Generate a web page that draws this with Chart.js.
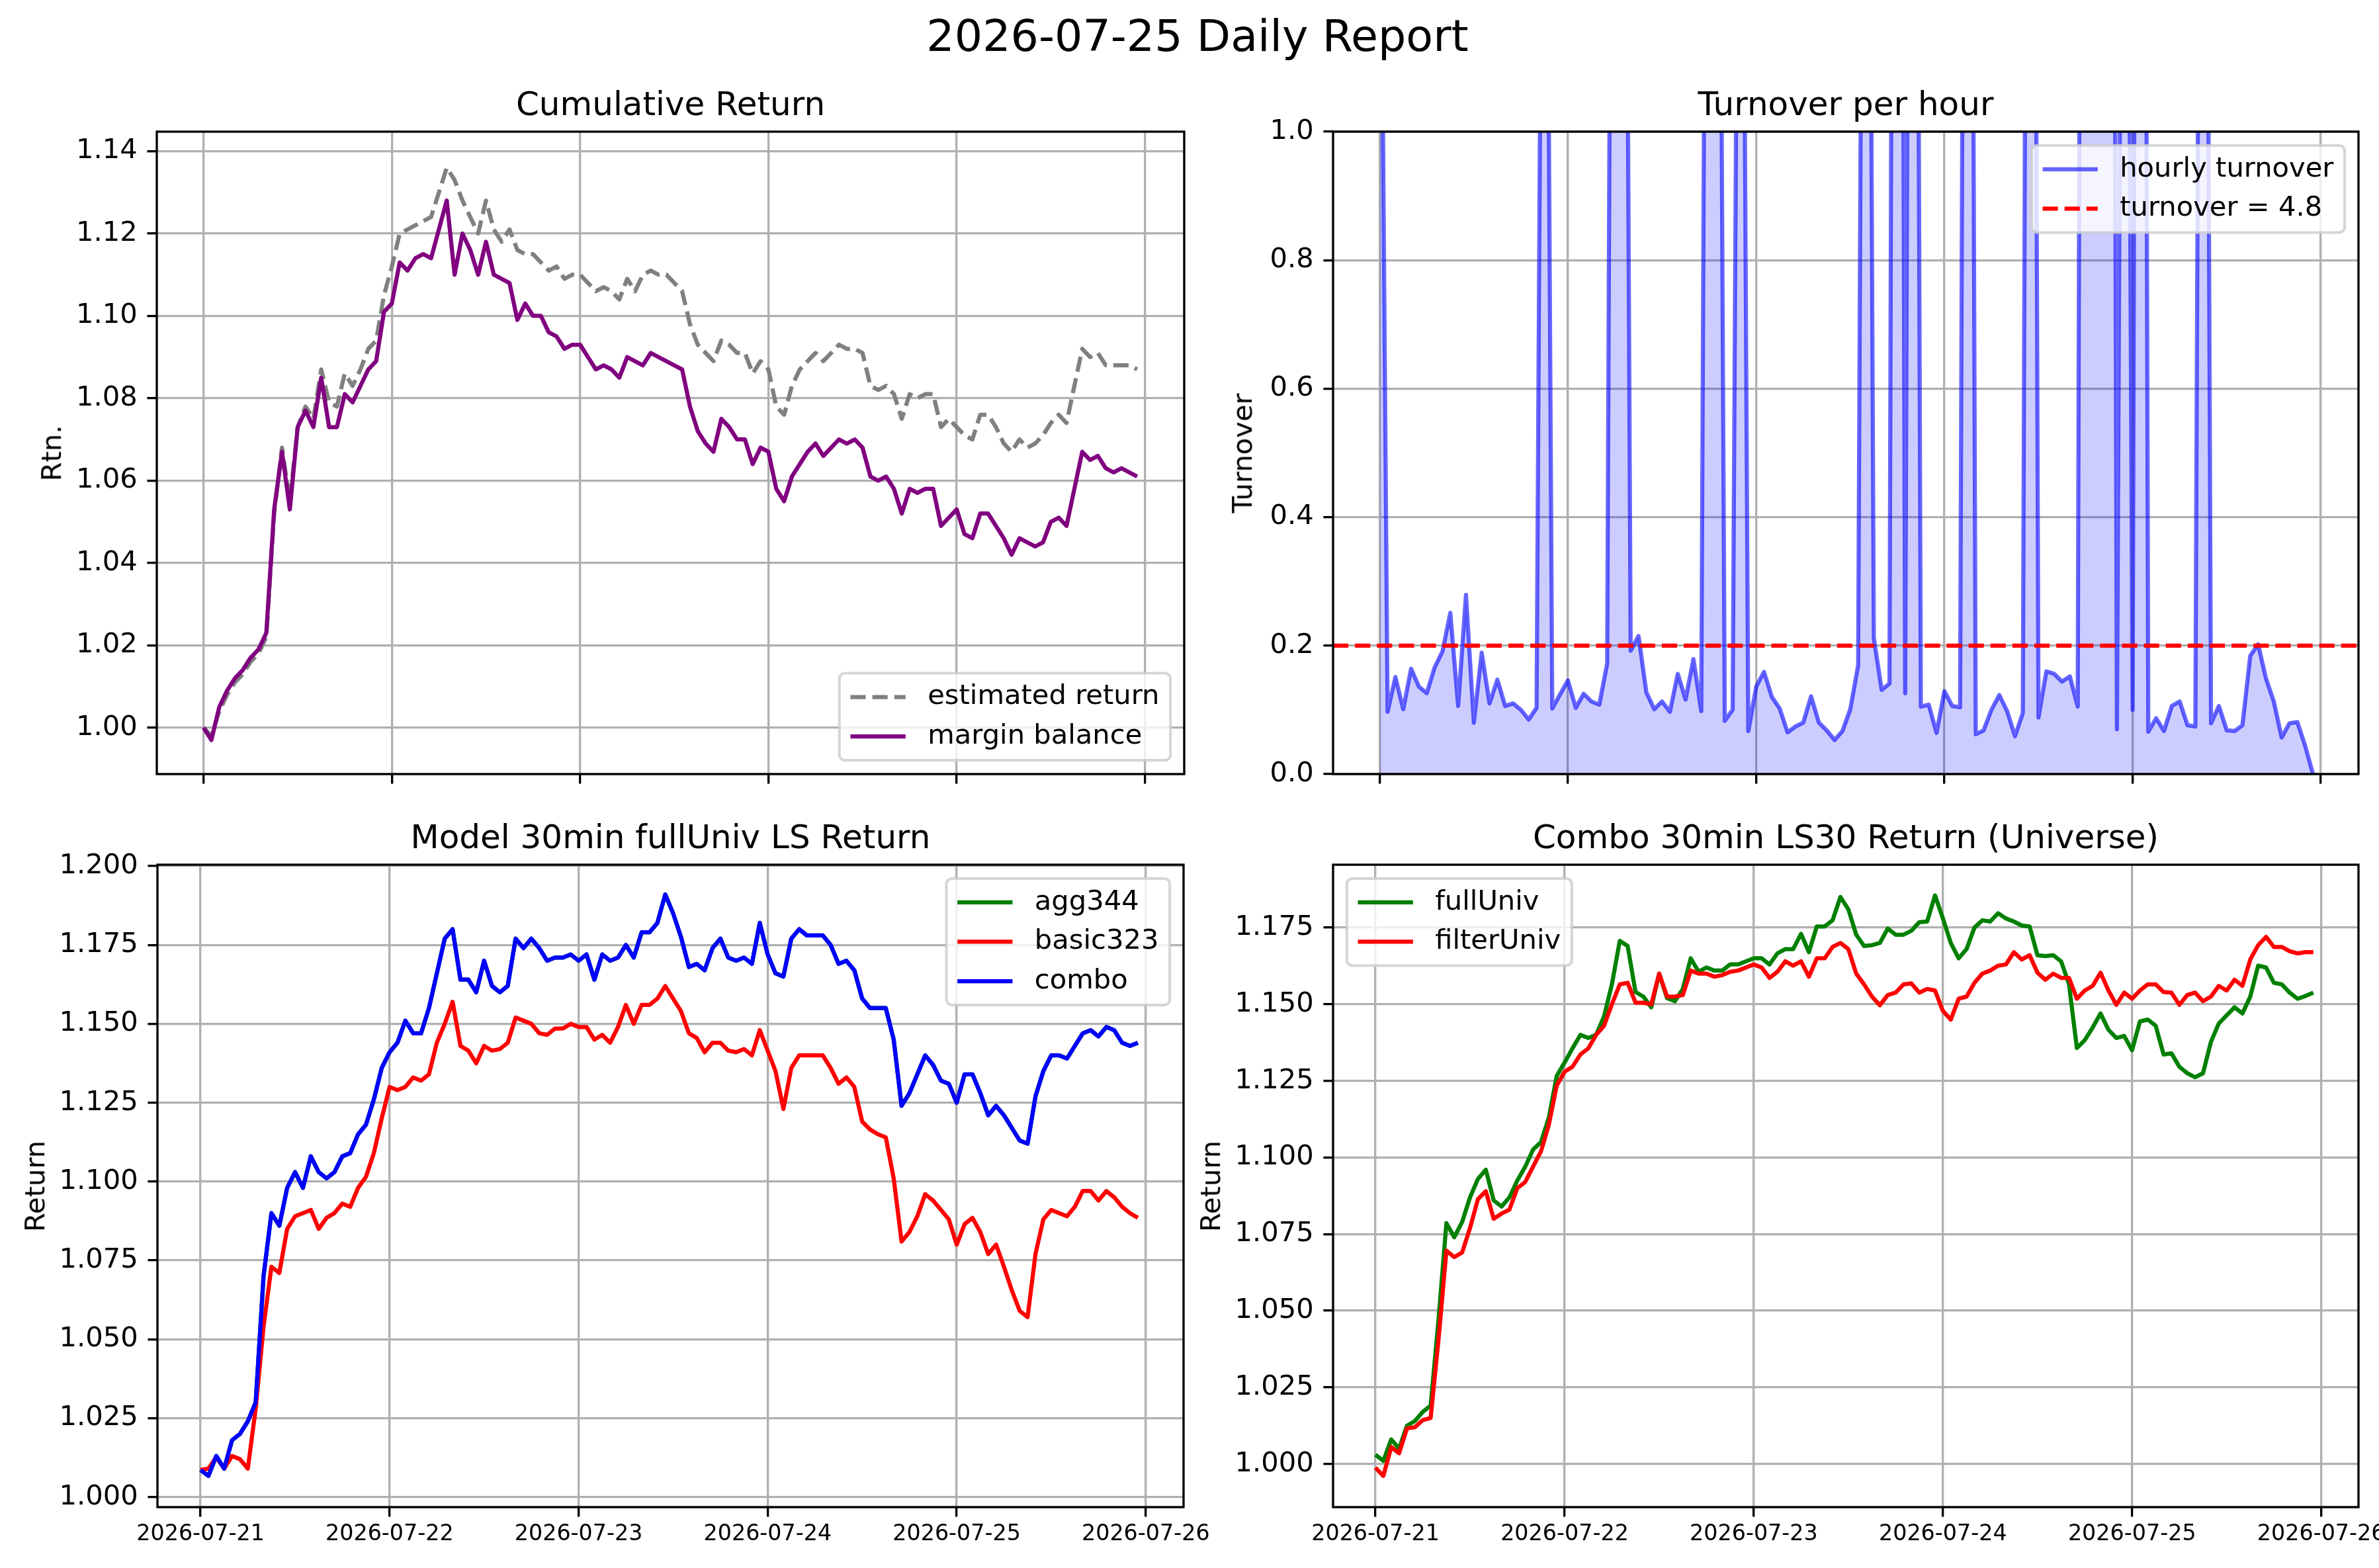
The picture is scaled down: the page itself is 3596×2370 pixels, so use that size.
<!DOCTYPE html>
<html>
<head>
<meta charset="utf-8">
<title>2026-07-25 Daily Report</title>
<script src="https://cdn.jsdelivr.net/npm/chart.js@4.4.1/dist/chart.umd.min.js"></script>
<style>
html, body { margin: 0; padding: 0; background: #fff; }
#fig { position: relative; width: 3596px; height: 2370px; overflow: hidden; background: #fff; font-family: "DejaVu Sans", sans-serif; color: #000; }
#fig canvas { position: absolute; }
.txt { position: absolute; white-space: nowrap; line-height: 1; }
</style>
</head>
<body>
<div id="fig"></div>
<script>
// hourly samples, first one at 2026-07-21 00:00
const DATES = ['2026-07-21', '2026-07-22', '2026-07-23', '2026-07-24', '2026-07-25', '2026-07-26'];
const HOURS_PER_DAY = 24;

// Cumulative Return
const estReturn = [
  1.000, 0.998, 1.004, 1.008, 1.011, 1.013, 1.016, 1.018, 1.022, 1.052, 1.068, 1.055,
  1.073, 1.078, 1.075, 1.087, 1.079, 1.078, 1.086, 1.083, 1.087, 1.092, 1.094, 1.105,
  1.112, 1.120, 1.121, 1.122, 1.123, 1.124, 1.130, 1.136, 1.133, 1.128, 1.124, 1.120,
  1.128, 1.121, 1.118, 1.121, 1.116, 1.115, 1.115, 1.113, 1.111, 1.112, 1.109, 1.110,
  1.110, 1.108, 1.106, 1.107, 1.106, 1.104, 1.109, 1.106, 1.110, 1.111, 1.110, 1.110,
  1.108, 1.106, 1.098, 1.093, 1.091, 1.089, 1.094, 1.093, 1.091, 1.091, 1.086, 1.089,
  1.087, 1.078, 1.076, 1.083, 1.087, 1.089, 1.091, 1.089, 1.091, 1.093, 1.092, 1.092,
  1.091, 1.083, 1.082, 1.083, 1.081, 1.075, 1.081, 1.080, 1.081, 1.081, 1.073, 1.075,
  1.073, 1.071, 1.070, 1.076, 1.076, 1.073, 1.069, 1.067, 1.070, 1.068, 1.069, 1.071,
  1.074, 1.076, 1.074, 1.083, 1.092, 1.090, 1.091, 1.088, 1.088, 1.088, 1.088, 1.087
];
const marginBalance = [
  1.000, 0.997, 1.005, 1.009, 1.012, 1.014, 1.017, 1.019, 1.023, 1.053, 1.067, 1.053,
  1.073, 1.077, 1.073, 1.085, 1.073, 1.073, 1.081, 1.079, 1.083, 1.087, 1.089, 1.101,
  1.103, 1.113, 1.111, 1.114, 1.115, 1.114, 1.121, 1.128, 1.110, 1.120, 1.116, 1.110,
  1.118, 1.110, 1.109, 1.108, 1.099, 1.103, 1.100, 1.100, 1.096, 1.095, 1.092, 1.093,
  1.093, 1.090, 1.087, 1.088, 1.087, 1.085, 1.090, 1.089, 1.088, 1.091, 1.090, 1.089,
  1.088, 1.087, 1.078, 1.072, 1.069, 1.067, 1.075, 1.073, 1.070, 1.070, 1.064, 1.068,
  1.067, 1.058, 1.055, 1.061, 1.064, 1.067, 1.069, 1.066, 1.068, 1.070, 1.069, 1.070,
  1.068, 1.061, 1.060, 1.061, 1.058, 1.052, 1.058, 1.057, 1.058, 1.058, 1.049, 1.051,
  1.053, 1.047, 1.046, 1.052, 1.052, 1.049, 1.046, 1.042, 1.046, 1.045, 1.044, 1.045,
  1.050, 1.051, 1.049, 1.058, 1.067, 1.065, 1.066, 1.063, 1.062, 1.063, 1.062, 1.061
];

// Turnover per hour (values above 1.0 are cut off by the axis)
const hourlyTurnover = [
  1.65, 0.097, 0.151, 0.101, 0.164, 0.136, 0.126, 0.166, 0.191, 0.251, 0.106, 0.279,
  0.080, 0.189, 0.110, 0.147, 0.106, 0.110, 0.100, 0.085, 0.103, 2.2, 0.102, 0.124,
  0.146, 0.103, 0.125, 0.113, 0.108, 0.172, 3.0, 2.6, 0.192, 0.215, 0.127, 0.101,
  0.113, 0.097, 0.156, 0.116, 0.179, 0.098, 2.8, 2.4, 0.083, 0.100, 2.2, 0.067,
  0.136, 0.159, 0.120, 0.102, 0.065, 0.074, 0.080, 0.121, 0.080, 0.068, 0.053, 0.067,
  0.101, 0.169, 2.8, 0.212, 0.131, 0.141, 4.2, 0.126, 3.5, 0.105, 0.108, 0.064,
  0.129, 0.106, 0.104, 3.4, 0.062, 0.068, 0.100, 0.123, 0.098, 0.059, 0.095, 3.5,
  0.088, 0.160, 0.156, 0.144, 0.152, 0.105, 4.5, 5.0, 4.8, 4.3, 0.070, 2.6,
  0.100, 4.4, 0.066, 0.087, 0.067, 0.106, 0.113, 0.076, 0.074, 3.0, 0.079, 0.106,
  0.068, 0.067, 0.076, 0.184, 0.202, 0.149, 0.113, 0.057, 0.079, 0.081, 0.044, 0.000
];
const TURNOVER_LINE = 0.2;

// Model 30min fullUniv LS Return
const combo = [
  1.0086, 1.0067, 1.0130, 1.0090, 1.0180, 1.0200, 1.0240, 1.0300, 1.0700, 1.0900, 1.0860, 1.0980,
  1.1030, 1.0980, 1.1080, 1.1030, 1.1010, 1.1030, 1.1080, 1.1090, 1.1150, 1.1180, 1.1260, 1.1360,
  1.1410, 1.1440, 1.1510, 1.1470, 1.1470, 1.1550, 1.1660, 1.1770, 1.1800, 1.1640, 1.1640, 1.1600,
  1.1700, 1.1620, 1.1600, 1.1620, 1.1770, 1.1740, 1.1770, 1.1740, 1.1700, 1.1710, 1.1710, 1.1720,
  1.1700, 1.1720, 1.1640, 1.1720, 1.1700, 1.1710, 1.1750, 1.1710, 1.1790, 1.1790, 1.1820, 1.1910,
  1.1850, 1.1775, 1.1680, 1.1690, 1.1670, 1.1740, 1.1770, 1.1710, 1.1700, 1.1710, 1.1690, 1.1820,
  1.1720, 1.1660, 1.1650, 1.1770, 1.1800, 1.1780, 1.1780, 1.1780, 1.1750, 1.1690, 1.1700, 1.1670,
  1.1580, 1.1550, 1.1550, 1.1550, 1.1450, 1.1240, 1.1280, 1.1340, 1.1400, 1.1370, 1.1320, 1.1310,
  1.1250, 1.1340, 1.1340, 1.1280, 1.1210, 1.1240, 1.1210, 1.1170, 1.1130, 1.1120, 1.1270, 1.1350,
  1.1400, 1.1400, 1.1390, 1.1430, 1.1470, 1.1480, 1.1460, 1.1490, 1.1480, 1.1440, 1.1430, 1.1440
];
// agg344 is the same curve as combo here, so it is hidden under it
const agg344 = combo.slice();
const basic323 = [
  1.0086, 1.0090, 1.0126, 1.0090, 1.0130, 1.0120, 1.0090, 1.0280, 1.0540, 1.0730, 1.0710, 1.0850,
  1.0890, 1.0900, 1.0910, 1.0850, 1.0885, 1.0900, 1.0930, 1.0920, 1.0980, 1.1015, 1.1090, 1.1200,
  1.1300, 1.1290, 1.1300, 1.1330, 1.1320, 1.1340, 1.1440, 1.1500, 1.1570, 1.1430, 1.1415, 1.1375,
  1.1430, 1.1415, 1.1420, 1.1440, 1.1520, 1.1510, 1.1500, 1.1470, 1.1465, 1.1485, 1.1485, 1.1500,
  1.1490, 1.1490, 1.1450, 1.1465, 1.1440, 1.1490, 1.1560, 1.1500, 1.1560, 1.1560, 1.1580, 1.1620,
  1.1580, 1.1540, 1.1470, 1.1455, 1.1410, 1.1440, 1.1440, 1.1415, 1.1410, 1.1420, 1.1400, 1.1480,
  1.1415, 1.1350, 1.1230, 1.1360, 1.1400, 1.1400, 1.1400, 1.1400, 1.1360, 1.1310, 1.1330, 1.1300,
  1.1190, 1.1165, 1.1150, 1.1140, 1.1010, 1.0810, 1.0840, 1.0890, 1.0960, 1.0940, 1.0910, 1.0880,
  1.0800, 1.0865, 1.0885, 1.0840, 1.0770, 1.0800, 1.0730, 1.0655, 1.0590, 1.0570, 1.0770, 1.0880,
  1.0910, 1.0900, 1.0890, 1.0920, 1.0970, 1.0970, 1.0940, 1.0970, 1.0950, 1.0920, 1.0900, 1.0885
];

// Combo 30min LS30 Return (Universe)
const fullUniv = [
  1.0030, 1.0010, 1.0080, 1.0050, 1.0125, 1.0140, 1.0170, 1.0190, 1.0470, 1.0786, 1.0740, 1.0790,
  1.0870, 1.0930, 1.0960, 1.0860, 1.0840, 1.0870, 1.0925, 1.0970, 1.1026, 1.1050, 1.1130, 1.1266,
  1.1310, 1.1356, 1.1400, 1.1390, 1.1400, 1.1460, 1.1565, 1.1707, 1.1690, 1.1540, 1.1525, 1.1490,
  1.1600, 1.1520, 1.1510, 1.1550, 1.1650, 1.1606, 1.1620, 1.1610, 1.1610, 1.1630, 1.1630, 1.1640,
  1.1650, 1.1650, 1.1630, 1.1666, 1.1680, 1.1680, 1.1730, 1.1670, 1.1754, 1.1754, 1.1774, 1.1850,
  1.1810, 1.1727, 1.1690, 1.1693, 1.1700, 1.1747, 1.1727, 1.1727, 1.1740, 1.1768, 1.1770, 1.1855,
  1.1780, 1.1700, 1.1650, 1.1680, 1.1750, 1.1774, 1.1770, 1.1797, 1.1780, 1.1770, 1.1757, 1.1754,
  1.1660, 1.1657, 1.1660, 1.1640, 1.1565, 1.1357, 1.1383, 1.1424, 1.1470, 1.1417, 1.1390, 1.1397,
  1.1350, 1.1444, 1.1450, 1.1430, 1.1336, 1.1340, 1.1296, 1.1275, 1.1262, 1.1275, 1.1377, 1.1437,
  1.1464, 1.1490, 1.1470, 1.1525, 1.1626, 1.1620, 1.1570, 1.1565, 1.1538, 1.1518, 1.1527, 1.1538
];
const filterUniv = [
  0.9988, 0.9961, 1.0055, 1.0035, 1.0116, 1.0120, 1.0143, 1.0150, 1.0406, 1.0696, 1.0675, 1.0690,
  1.0770, 1.0864, 1.0890, 1.0800, 1.0817, 1.0830, 1.0900, 1.0920, 1.0970, 1.1020, 1.1107, 1.1235,
  1.1280, 1.1296, 1.1336, 1.1356, 1.1400, 1.1430, 1.1500, 1.1565, 1.1570, 1.1505, 1.1505, 1.1500,
  1.1600, 1.1525, 1.1525, 1.1530, 1.1610, 1.1600, 1.1600, 1.1590, 1.1595, 1.1606, 1.1610, 1.1620,
  1.1630, 1.1620, 1.1586, 1.1606, 1.1640, 1.1626, 1.1640, 1.1590, 1.1650, 1.1650, 1.1687, 1.1700,
  1.1680, 1.1600, 1.1565, 1.1525, 1.1497, 1.1530, 1.1538, 1.1565, 1.1568, 1.1538, 1.1550, 1.1545,
  1.1478, 1.1450, 1.1518, 1.1525, 1.1570, 1.1600, 1.1610, 1.1626, 1.1630, 1.1670, 1.1646, 1.1660,
  1.1603, 1.1580, 1.1600, 1.1586, 1.1586, 1.1518, 1.1545, 1.1560, 1.1603, 1.1545, 1.1498, 1.1538,
  1.1518, 1.1545, 1.1565, 1.1565, 1.1540, 1.1538, 1.1498, 1.1530, 1.1538, 1.1510, 1.1525, 1.1560,
  1.1545, 1.1580, 1.1560, 1.1646, 1.1693, 1.1720, 1.1687, 1.1687, 1.1673, 1.1666, 1.1670, 1.1670
];

// y tick labels
const rtnTicks = [1.00, 1.02, 1.04, 1.06, 1.08, 1.10, 1.12, 1.14];
const turnoverTicks = [0.0, 0.2, 0.4, 0.6, 0.8, 1.0];
const modelTicks = [1.000, 1.025, 1.050, 1.075, 1.100, 1.125, 1.150, 1.175, 1.200];
const univTicks = [1.000, 1.025, 1.050, 1.075, 1.100, 1.125, 1.150, 1.175];

// ---------------------------------------------------------------------------

Chart.defaults.font.family = '"DejaVu Sans"';
Chart.defaults.animation = false;

const pt = v => v * 300 / 72; // figure was saved at 300 dpi
const LINE_W = pt(1.5);
const DASHED = [pt(5.55), pt(2.4)];
const GRID = '#b0b0b0';
const Y_BOX = 230, X_BOX = 100, PAD_T = 40, PAD_R = 140;

const fig = document.getElementById('fig');
const dayTicks = DATES.map((d, i) => i * HOURS_PER_DAY);
const pts = arr => arr.map((v, i) => ({ x: i, y: v }));

function addText(str, size, left, top, transform) {
    const d = document.createElement('div');
    d.className = 'txt';
    d.textContent = str;
    d.style.fontSize = size + 'px';
    d.style.left = left + 'px';
    d.style.top = top + 'px';
    d.style.transform = transform;
    fig.appendChild(d);
}
// centred on cx, baseline at y (DejaVu: baseline sits 0.846em into a 1em line box)
const hText = (s, size, cx, y) => addText(s, size, cx, y - 0.846 * size, 'translateX(-50%)');
const vText = (s, size, cx, cy) => addText(s, size, cx, cy, 'translate(-50%,-50%) rotate(-90deg)');

// black box round the axes, like matplotlib spines
const framePlugin = {
    id: 'mplFrame',
    afterDatasetsDraw(chart) {
        const { ctx, chartArea: a } = chart;
        ctx.save();
        ctx.strokeStyle = '#000';
        ctx.lineWidth = pt(0.8);
        ctx.strokeRect(a.left, a.top, a.right - a.left, a.bottom - a.top);
        ctx.restore();
    }
};

// matplotlib style legend inside the axes
const legendPlugin = {
    id: 'mplLegend',
    afterDatasetsDraw(chart, args, opts) {
        const ctx = chart.ctx, a = chart.chartArea;
        const items = chart.data.datasets.filter(d => d.label);
        const fs = pt(10);
        ctx.save();
        ctx.font = fs + 'px "DejaVu Sans"';
        const textW = Math.max(...items.map(d => ctx.measureText(d.label).width));
        const pad = 0.4 * fs, handle = 2 * fs, gap = 0.8 * fs, spacing = 0.5 * fs, rowH = 0.93 * fs, axPad = 0.5 * fs;
        const w = 2 * pad + handle + gap + textW;
        const h = 2 * pad + items.length * rowH + (items.length - 1) * spacing;
        const x = opts.loc.endsWith('right') ? a.right - axPad - w : a.left + axPad;
        const y = opts.loc.startsWith('upper') ? a.top + axPad : a.bottom - axPad - h;
        ctx.beginPath();
        if (ctx.roundRect) ctx.roundRect(x, y, w, h, 0.2 * fs);
        else ctx.rect(x, y, w, h);
        ctx.fillStyle = 'rgba(255,255,255,0.8)';
        ctx.fill();
        ctx.lineWidth = pt(1);
        ctx.strokeStyle = 'rgba(204,204,204,0.8)';
        ctx.stroke();
        items.forEach((d, i) => {
            const cy = y + pad + rowH / 2 + i * (rowH + spacing);
            ctx.beginPath();
            ctx.setLineDash(d.borderDash || []);
            ctx.lineWidth = d.borderWidth;
            ctx.strokeStyle = d.borderColor;
            ctx.moveTo(x + pad, cy);
            ctx.lineTo(x + pad + handle, cy);
            ctx.stroke();
            ctx.setLineDash([]);
            ctx.fillStyle = '#000';
            ctx.textBaseline = 'middle';
            ctx.textAlign = 'left';
            ctx.fillText(d.label, x + pad + handle + gap, cy);
        });
        ctx.restore();
    }
};

function gridOpts() {
    return {
        color: GRID, lineWidth: pt(0.8),
        drawTicks: true, tickLength: pt(3.5), tickColor: '#000', tickWidth: pt(0.8)
    };
}

function panel(p) {
    const w = Y_BOX + (p.box.r - p.box.l) + PAD_R;
    const h = PAD_T + (p.box.b - p.box.t) + X_BOX;
    const cv = document.createElement('canvas');
    cv.width = w;
    cv.height = h;
    cv.style.left = (p.box.l - Y_BOX) + 'px';
    cv.style.top = (p.box.t - PAD_T) + 'px';
    cv.style.width = w + 'px';
    cv.style.height = h + 'px';
    fig.appendChild(cv);

    const n = p.series.length;
    new Chart(cv, {
        type: 'line',
        data: {
            datasets: p.series.map((s, i) => ({
                label: s.label,
                data: s.data,
                borderColor: s.color,
                borderWidth: LINE_W,
                borderDash: s.dash || [],
                borderJoinStyle: 'round',
                pointRadius: 0,
                tension: 0,
                fill: s.fill ? 'origin' : false,
                backgroundColor: s.fill || 'transparent',
                clip: 0,
                order: n - i
            }))
        },
        options: {
            responsive: false,
            devicePixelRatio: 1,
            animation: false,
            events: [],
            layout: { padding: { top: PAD_T, right: PAD_R, left: 0, bottom: 0 } },
            plugins: {
                legend: { display: false },
                tooltip: { enabled: false },
                mplLegend: { loc: p.legendLoc }
            },
            scales: {
                x: {
                    type: 'linear', min: p.xMin, max: p.xMax,
                    afterBuildTicks: s => { s.ticks = dayTicks.map(v => ({ value: v })); },
                    afterFit: s => { s.height = X_BOX; },
                    grid: gridOpts(),
                    border: { display: false },
                    ticks: {
                        autoSkip: false, maxRotation: 0, minRotation: 0,
                        padding: pt(3.5) - 8, color: '#000', font: { size: pt(8) },
                        callback: v => p.showDates ? DATES[Math.round(v / HOURS_PER_DAY)] : ''
                    }
                },
                y: {
                    type: 'linear', min: p.yMin, max: p.yMax,
                    afterBuildTicks: s => { s.ticks = p.yTicks.map(v => ({ value: v })); },
                    afterFit: s => { s.width = Y_BOX; },
                    grid: gridOpts(),
                    border: { display: false },
                    ticks: {
                        autoSkip: false, padding: pt(3.5), color: '#000', font: { size: pt(10) },
                        callback: v => v.toFixed(p.yDigits)
                    }
                }
            }
        },
        plugins: [framePlugin, legendPlugin]
    });

    hText(p.title, pt(12), (p.box.l + p.box.r) / 2, p.box.t - 24.5);
    vText(p.ylabel, pt(10), p.ylabelX, (p.box.t + p.box.b) / 2);
}

hText('2026-07-25 Daily Report', pt(16), 1810, 77);

panel({
    title: 'Cumulative Return', ylabel: 'Rtn.', ylabelX: 78,
    box: { l: 237, t: 199, r: 1790, b: 1170 },
    xMin: -5.96, xMax: 125.0, yMin: 0.98873, yMax: 1.14474,
    yTicks: rtnTicks, yDigits: 2, showDates: false, legendLoc: 'lower right',
    series: [
        { label: 'estimated return', data: pts(estReturn), color: '#808080', dash: DASHED },
        { label: 'margin balance', data: pts(marginBalance), color: '#800080' }
    ]
});

const TR_XMIN = -5.95, TR_XMAX = 124.8;
panel({
    title: 'Turnover per hour', ylabel: 'Turnover', ylabelX: 1878,
    box: { l: 2015, t: 199, r: 3565, b: 1170 },
    xMin: TR_XMIN, xMax: TR_XMAX, yMin: 0, yMax: 1,
    yTicks: turnoverTicks, yDigits: 1, showDates: false, legendLoc: 'upper right',
    series: [
        { label: 'hourly turnover', data: pts(hourlyTurnover), color: 'rgba(0,0,255,0.6)', fill: 'rgba(0,0,255,0.2)' },
        { label: 'turnover = 4.8', data: [{ x: TR_XMIN, y: TURNOVER_LINE }, { x: TR_XMAX, y: TURNOVER_LINE }], color: '#ff0000', dash: DASHED }
    ]
});

panel({
    title: 'Model 30min fullUniv LS Return', ylabel: 'Return', ylabelX: 53,
    box: { l: 238, t: 1307, r: 1789, b: 2278 },
    xMin: -5.47, xMax: 124.8, yMin: 0.99679, yMax: 1.20044,
    yTicks: modelTicks, yDigits: 3, showDates: true, legendLoc: 'upper right',
    series: [
        { label: 'agg344', data: pts(agg344), color: '#008000' },
        { label: 'basic323', data: pts(basic323), color: '#ff0000' },
        { label: 'combo', data: pts(combo), color: '#0000ff' }
    ]
});

panel({
    title: 'Combo 30min LS30 Return (Universe)', ylabel: 'Return', ylabelX: 1830,
    box: { l: 2015, t: 1307, r: 3565, b: 2278 },
    xMin: -5.38, xMax: 124.73, yMin: 0.98591, yMax: 1.19554,
    yTicks: univTicks, yDigits: 3, showDates: true, legendLoc: 'upper left',
    series: [
        { label: 'fullUniv', data: pts(fullUniv), color: '#008000' },
        { label: 'filterUniv', data: pts(filterUniv), color: '#ff0000' }
    ]
});
</script>
</body>
</html>
